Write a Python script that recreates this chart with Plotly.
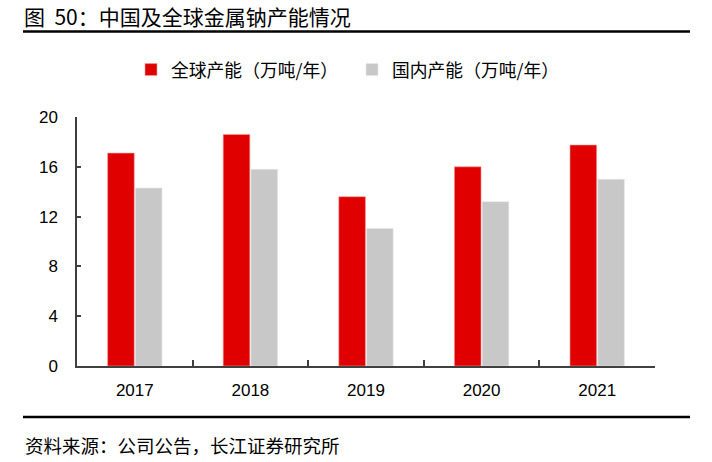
import plotly.graph_objects as go

years = ["2017", "2018", "2019", "2020", "2021"]
global_cap = [17.1, 18.6, 13.6, 16.0, 17.75]
china_cap = [14.3, 15.8, 11.05, 13.2, 15.0]
y_ticks = [0, 4, 8, 12, 16, 20]

FONT = "Liberation Sans, Arial, Noto Sans CJK SC, sans-serif"
CJK = "Noto Sans CJK SC, Liberation Sans, sans-serif"

fig = go.Figure()
fig.add_trace(go.Bar(x=years, y=global_cap, name="全球产能（万吨/年）",
                     marker=dict(color="#E00000", line=dict(color="#F4A0A0", width=0.6))))
fig.add_trace(go.Bar(x=years, y=china_cap, name="国内产能（万吨/年）",
                     marker=dict(color="#C8C8C8", line=dict(color="#E8E8E8", width=0.6))))

W, H = 712, 462
L, R, T, B = 77, 57, 117, 96
pw, ph = W - L - R, H - T - B

def px(x):
    return (x - L) / pw

def py(y):
    return (H - B - y) / ph

fig.update_layout(
    width=W, height=H,
    margin=dict(l=L, r=R, t=T, b=B),
    paper_bgcolor="white", plot_bgcolor="white",
    barmode="group", bargap=0.52, bargroupgap=0.04,
    font=dict(family=FONT, size=17, color="#000000"),
    showlegend=True,
    legend=dict(orientation="h", x=px(131), xanchor="left", y=py(70), yanchor="middle",
                font=dict(family=CJK, size=17.8, color="#000000"),
                entrywidth=176, entrywidthmode="pixels",
                traceorder="normal", tracegroupgap=0),
    xaxis=dict(showline=True, linecolor="#404040", linewidth=1.5, ticks="inside",
               ticklen=6, tickcolor="#404040", tickwidth=1.5, tickson="boundaries",
               showgrid=False, tickfont=dict(family=FONT, size=17),
               ticklabelstandoff=8, fixedrange=True),
    yaxis=dict(range=[0, 20], tickvals=y_ticks, showline=True, linecolor="#404040",
               linewidth=1.5, ticks="inside", ticklen=4, tickcolor="#404040", tickwidth=1.5,
               showgrid=False, zeroline=False, tickfont=dict(family=FONT, size=17),
               ticklabelstandoff=14, fixedrange=True),
)

fig.add_annotation(text="图  50：中国及全球金属钠产能情况", xref="paper", yref="paper",
                   x=px(23), y=py(0.5), xanchor="left", yanchor="top", showarrow=False,
                   borderpad=0, font=dict(family=CJK, size=21, color="#000000"))
fig.add_annotation(text="资料来源：公司公告，长江证券研究所", xref="paper", yref="paper",
                   x=px(23), y=py(445), xanchor="left", yanchor="middle", showarrow=False,
                   font=dict(family=CJK, size=18.5, color="#000000"))
for yy in (31.5, 417):
    fig.add_shape(type="line", xref="paper", yref="paper", x0=px(23), x1=px(690),
                  y0=py(yy), y1=py(yy), line=dict(color="#000000", width=2.5))

fig.write_html("out.html", config={"displayModeBar": False},
               post_script="document.body.style.margin='0';")
